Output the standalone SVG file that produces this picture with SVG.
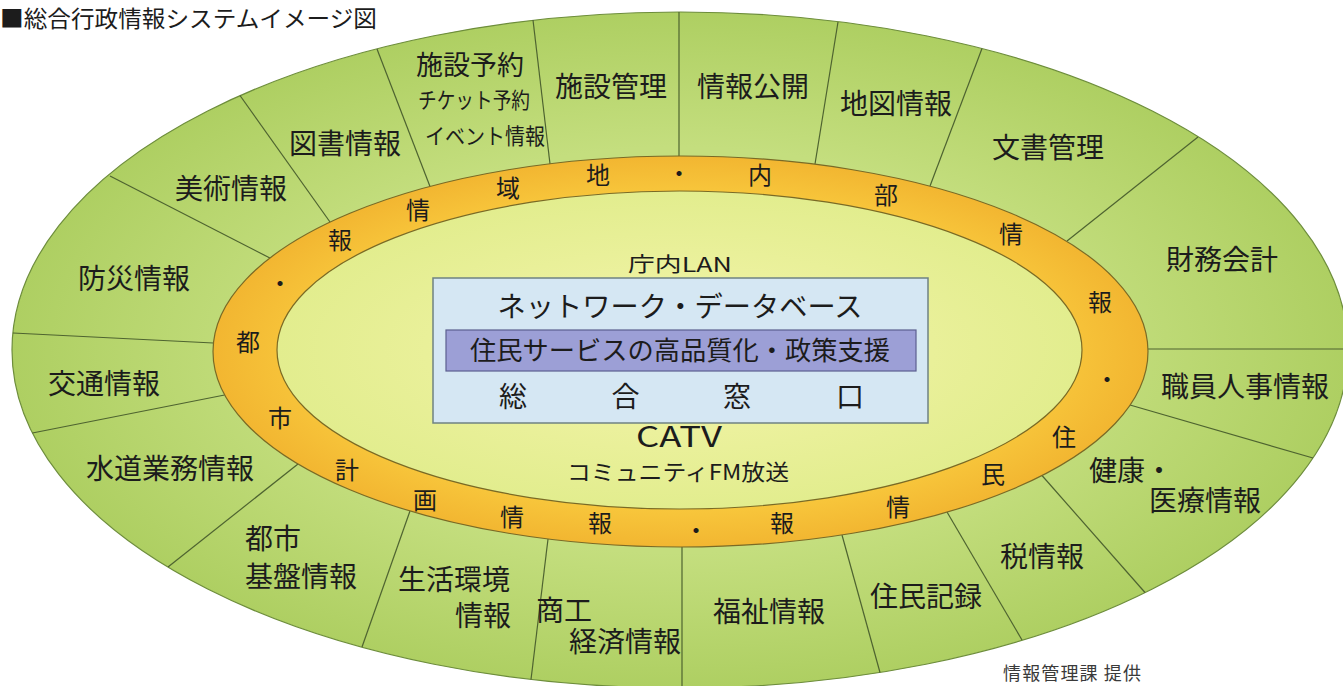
<svg xmlns="http://www.w3.org/2000/svg" width="1343" height="686" viewBox="0 0 1343 686">
<defs>
<radialGradient id="gGreen" cx="680" cy="350" r="668" gradientUnits="userSpaceOnUse" gradientTransform="translate(680 350) scale(1 0.506) translate(-680 -350)">
<stop offset="0.6" stop-color="#c4de7e"/>
<stop offset="1" stop-color="#aecf62"/>
</radialGradient>
<radialGradient id="gOrange" cx="0.5" cy="0.5" r="0.5">
<stop offset="0.8" stop-color="#f8c73c"/>
<stop offset="1" stop-color="#f2b631"/>
</radialGradient>
<radialGradient id="gInner" cx="0.5" cy="0.5" r="0.5">
<stop offset="0" stop-color="#f5f5ac"/>
<stop offset="1" stop-color="#e2ed8e"/>
</radialGradient>
<style>
text{font-family:'Noto Sans CJK JP','Noto Sans',sans-serif;fill:#1c1c1c;}
.lbl{font-size:28px;text-anchor:middle;}
.st{font-size:28px;text-anchor:start;}
.en{font-size:28px;text-anchor:end;}
.rc{font-size:24px;text-anchor:middle;}
.div{stroke:#4e6330;stroke-width:1.2;fill:none;}
</style>
</defs>
<rect width="1343" height="686" fill="#ffffff"/>
<text id="title" x="0" y="27" font-size="23" textLength="377" lengthAdjust="spacingAndGlyphs">■総合行政情報システムイメージ図</text>

<g id="outer-ring">
<ellipse cx="680" cy="350" rx="668" ry="338" fill="url(#gGreen)" stroke="#6d8d3b" stroke-width="1.2"/>
</g>
<g id="dividers">
<line class="div" x1="430" y1="186.5" x2="377" y2="49"/>
<line class="div" x1="550" y1="164" x2="533" y2="20"/>
<line class="div" x1="679" y1="156" x2="679" y2="12"/>
<line class="div" x1="815" y1="164" x2="838" y2="22"/>
<line class="div" x1="930" y1="186" x2="982" y2="48.5"/>
<line class="div" x1="1067" y1="241" x2="1198" y2="137"/>
<line class="div" x1="1148" y1="349" x2="1343" y2="349"/>
<line class="div" x1="1130" y1="405" x2="1313" y2="458"/>
<line class="div" x1="1042" y1="475.5" x2="1145" y2="592.5"/>
<line class="div" x1="947" y1="512" x2="1022" y2="640"/>
<line class="div" x1="842" y1="535" x2="880" y2="672.5"/>
<line class="div" x1="682" y1="547" x2="682" y2="688"/>
<line class="div" x1="548" y1="539" x2="531" y2="679.5"/>
<line class="div" x1="410" y1="511" x2="362" y2="647"/>
<line class="div" x1="298" y1="464" x2="168" y2="567"/>
<line class="div" x1="224.6" y1="395" x2="32.4" y2="433"/>
<line class="div" x1="213.4" y1="343" x2="12.9" y2="333"/>
<line class="div" x1="269.9" y1="258" x2="110" y2="176"/>
<line class="div" x1="330" y1="222" x2="240" y2="95.5"/>
</g>

<g id="orange-ring">
<ellipse cx="680.5" cy="351.5" rx="467.5" ry="195.5" fill="url(#gOrange)" stroke="#7a6a25" stroke-width="1.2"/>
<text class="rc" x="280" y="292">・</text>
<text class="rc" x="340" y="249">報</text>
<text class="rc" x="418" y="219">情</text>
<text class="rc" x="508" y="197">域</text>
<text class="rc" x="598" y="184">地</text>
<text class="rc" x="679" y="182">・</text>
<text class="rc" x="760" y="184">内</text>
<text class="rc" x="886" y="204">部</text>
<text class="rc" x="1011" y="243">情</text>
<text class="rc" x="1100" y="311">報</text>
<text class="rc" x="1107" y="388">・</text>
<text class="rc" x="1064" y="446">住</text>
<text class="rc" x="993" y="483">民</text>
<text class="rc" x="898" y="516">情</text>
<text class="rc" x="782" y="532">報</text>
<text class="rc" x="696" y="539">・</text>
<text class="rc" x="600" y="532">報</text>
<text class="rc" x="512" y="526">情</text>
<text class="rc" x="425" y="509">画</text>
<text class="rc" x="347" y="479">計</text>
<text class="rc" x="280" y="427">市</text>
<text class="rc" x="248" y="351">都</text>
</g>

<g id="inner-area">
<ellipse cx="679.5" cy="350" rx="402.5" ry="159" fill="url(#gInner)" stroke="#7a6a25" stroke-width="1.2"/>
<text x="680" y="271.6" font-size="20" text-anchor="middle" textLength="104" lengthAdjust="spacingAndGlyphs">庁内LAN</text>
<text x="679" y="447" font-size="29" text-anchor="middle" textLength="86" lengthAdjust="spacingAndGlyphs">CATV</text>
<text x="678" y="479.5" font-size="22" text-anchor="middle" textLength="222" lengthAdjust="spacingAndGlyphs">コミュニティFM放送</text>
</g>

<g id="center-box">
<rect x="433" y="278" width="495" height="145" fill="#d5e7f3" stroke="#6f8283" stroke-width="1.5"/>
<text x="680" y="316.6" font-size="28" text-anchor="middle" textLength="365" lengthAdjust="spacingAndGlyphs">ネットワーク・データベース</text>
<rect x="446" y="330" width="470" height="41" fill="#9c9fd6" stroke="#5c5f8f" stroke-width="1.2"/>
<text x="680" y="360" font-size="26" text-anchor="middle" textLength="420" lengthAdjust="spacingAndGlyphs">住民サービスの高品質化・政策支援</text>
<text class="lbl" x="513" y="406.6">総</text>
<text class="lbl" x="625.5" y="406.6">合</text>
<text class="lbl" x="737" y="406.6">窓</text>
<text class="lbl" x="850" y="406.6">口</text>
</g>

<g id="n-tosho"><text class="lbl" x="345" y="153.6">図書情報</text></g>
<g id="n-bijutsu"><text class="lbl" x="231" y="198.6">美術情報</text></g>
<g id="n-bousai"><text class="lbl" x="134" y="288.6">防災情報</text></g>
<g id="n-koutsu"><text class="lbl" x="104" y="393.6">交通情報</text></g>
<g id="n-suidou"><text class="lbl" x="170" y="478.6">水道業務情報</text></g>
<g id="n-toshikiban"><text class="st" x="245" y="548.6">都市</text><text class="st" x="245" y="586.6">基盤情報</text></g>
<g id="n-seikatsu"><text class="lbl" x="454" y="589.6">生活環境</text><text class="en" x="511" y="625.6">情報</text></g>
<g id="n-shoukou"><text class="st" x="536" y="620.6">商工</text><text class="en" x="681" y="651.6">経済情報</text></g>
<g id="n-fukushi"><text class="lbl" x="769" y="621.6">福祉情報</text></g>
<g id="n-juminkiroku"><text class="lbl" x="926" y="606.6">住民記録</text></g>
<g id="n-zei"><text class="lbl" x="1042" y="566.6">税情報</text></g>
<g id="n-kenkou"><text class="st" x="1089" y="480.6">健康・</text><text class="en" x="1261" y="510.6">医療情報</text></g>
<g id="n-shokuin"><text class="lbl" x="1245" y="396.6">職員人事情報</text></g>
<g id="n-zaimu"><text class="lbl" x="1222" y="269.6">財務会計</text></g>
<g id="n-bunsho"><text class="lbl" x="1048" y="157.6">文書管理</text></g>
<g id="n-chizu"><text class="lbl" x="896" y="113.6">地図情報</text></g>
<g id="n-koukai"><text class="lbl" x="753" y="96.6">情報公開</text></g>
<g id="n-shisetsukanri"><text class="lbl" x="611" y="96.6">施設管理</text></g>
<g id="n-yoyaku">
<text x="470" y="75" font-size="27" text-anchor="middle">施設予約</text>
<text x="474" y="108.4" font-size="22" text-anchor="middle" textLength="112" lengthAdjust="spacingAndGlyphs">チケット予約</text>
<text x="485" y="144.4" font-size="22" text-anchor="middle" textLength="120" lengthAdjust="spacingAndGlyphs">イベント情報</text>
</g>

<text id="credit" x="1003" y="680" font-size="18" style="fill:#3a3a3a" textLength="138" lengthAdjust="spacing">情報管理課 提供</text>
</svg>
